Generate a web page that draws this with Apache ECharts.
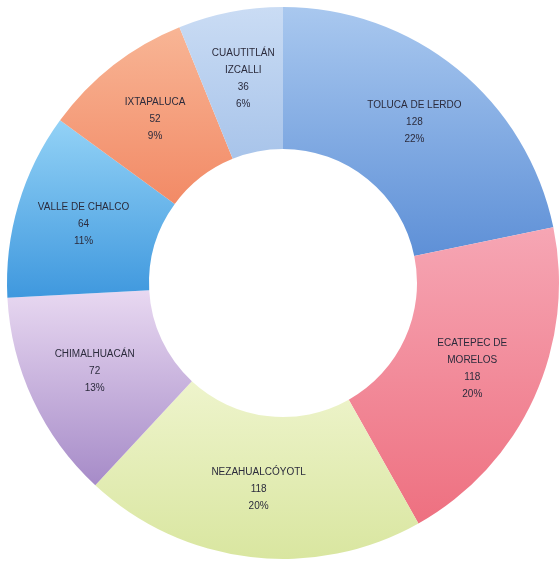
<!DOCTYPE html>
<html>
<head>
<meta charset="utf-8">
<script src="https://cdn.jsdelivr.net/npm/echarts@6/dist/echarts.min.js"></script>
<style>html,body{margin:0;padding:0;background:#fff}#c{width:560px;height:567px}</style>
</head>
<body>
<div id="c"></div>
<script>
const categories = ['TOLUCA DE LERDO', 'ECATEPEC DE\nMORELOS', 'NEZAHUALCÓYOTL', 'CHIMALHUACÁN', 'VALLE DE CHALCO', 'IXTAPALUCA', 'CUAUTITLÁN\nIZCALLI'];
const values = [128, 118, 118, 72, 64, 52, 36];
const percentLabels = ['22%', '20%', '20%', '13%', '11%', '9%', '6%'];
const colorsTop = ['#a9c8ef', '#f6a6b4', '#eef4cc', '#e8d8f1', '#93d2f6', '#f8b595', '#cadcf4'];
const colorsBottom = ['#5e90d7', '#ee7080', '#d9e6a0', '#a68bc8', '#3f98de', '#f28a66', '#a8c4ea'];

const chart = echarts.init(document.getElementById('c'));
chart.setOption({
  animation: false,
  series: [{
    type: 'pie',
    center: [283, 283],
    radius: [134, 276],
    startAngle: 90,
    clockwise: true,
    avoidLabelOverlap: false,
    label: {
      show: true,
      position: 'inside',
      fontFamily: 'Liberation Sans',
      fontSize: 10,
      lineHeight: 17,
      color: '#2b2b3c',
      formatter: p => p.name + '\n' + p.value + '\n' + percentLabels[p.dataIndex]
    },
    labelLine: { show: false },
    itemStyle: { borderWidth: 0 },
    data: categories.map((n, i) => ({
      name: n,
      value: values[i],
      itemStyle: {
        color: new echarts.graphic.LinearGradient(0, 0, 0, 1, [
          { offset: 0, color: colorsTop[i] },
          { offset: 1, color: colorsBottom[i] }
        ])
      }
    }))
  }]
});
</script>
</body>
</html>
